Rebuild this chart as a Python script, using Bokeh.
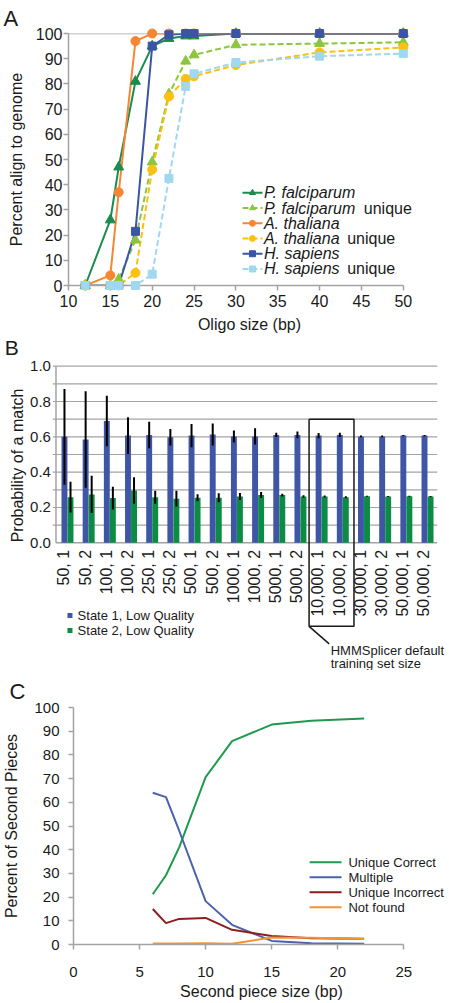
import numpy as np
from bokeh.plotting import figure
from bokeh.models import FixedTicker, Grid
from bokeh.core.properties import value
from bokeh.embed import file_html
from bokeh.resources import INLINE

FONT = "Liberation Sans"
GRAY = "#a3a3a3"
TXT = "#1a1a1a"

# ---------------- Panel A data ----------------
oligo_size = [12, 15, 16, 18, 20, 22, 24, 25, 30, 40, 50]
pf_all = [0, 26, 47, 81, 95, 98, 99, 99, 100, 100, 100]
pf_unique = [0, 0, 2.5, 18, 49, 76, 89, 91.5, 95.5, 96, 96.5]
at_all = [0, 4, 37, 97, 100, 100, 100, 100, 100, 100, 100]
at_unique = [0, 0, 0, 5, 46, 75, 82, 83, 87.5, 92.5, 94.5]
hs_all = [0, 0, 0, 21.5, 95, 99.5, 100, 100, 100, 100, 100]
hs_unique = [0, 0, 0, 0, 4.5, 42.5, 79, 84, 88.5, 91, 92]
a_xticks = [10, 15, 20, 25, 30, 35, 40, 45, 50]
a_yticks = [0, 10, 20, 30, 40, 50, 60, 70, 80, 90, 100]

# ---------------- Panel B data ----------------
train_labels = ["50, 1", "50, 2", "100, 1", "100, 2", "250, 1", "250, 2",
                "500, 1", "500, 2", "1000, 1", "1000, 2", "5000, 1", "5000, 2",
                "10,000, 1", "10,000, 2", "30,000, 1", "30,000, 2", "50,000, 1", "50,000, 2"]
state1 = [0.600, 0.585, 0.690, 0.607, 0.611, 0.598, 0.607, 0.613, 0.602, 0.602,
          0.611, 0.611, 0.607, 0.611, 0.602, 0.602, 0.607, 0.607]
state1_err = [0.271, 0.273, 0.143, 0.104, 0.075, 0.047, 0.066, 0.062, 0.034, 0.046,
              0.012, 0.019, 0.015, 0.012, 0.005, 0.005, 0.004, 0.004]
state2 = [0.258, 0.274, 0.253, 0.296, 0.258, 0.250, 0.255, 0.255, 0.262, 0.270,
          0.270, 0.262, 0.262, 0.258, 0.264, 0.262, 0.264, 0.262]
state2_err = [0.087, 0.105, 0.065, 0.075, 0.037, 0.045, 0.020, 0.026, 0.020, 0.017,
              0.008, 0.007, 0.006, 0.006, 0.003, 0.003, 0.003, 0.003]
b_yticks = [0.0, 0.2, 0.4, 0.6, 0.8, 1.0]
b_ygrid = [0.1, 0.2, 0.3, 0.4, 0.5, 0.6, 0.7, 0.8, 0.9, 1.0]
b_series = ["State 1, Low Quality", "State 2, Low Quality"]

# ---------------- Panel C data ----------------
piece_size = [6, 7, 8, 10, 12, 15, 18, 22]
unique_correct = [21.2, 29.2, 41.0, 70.6, 85.8, 92.8, 94.4, 95.4]
multiple = [64.0, 62.2, 48.0, 18.3, 8.3, 1.5, 0.5, 0.3]
unique_incorrect = [15.0, 9.0, 10.8, 11.2, 6.2, 3.6, 2.6, 2.4]
not_found = [0.4, 0.4, 0.4, 0.5, 0.3, 3.0, 2.8, 2.3]
c_xticks = [0, 5, 10, 15, 20, 25]
c_yticks = [0, 10, 20, 30, 40, 50, 60, 70, 80, 90, 100]


def style_axis(ax, ticks, bounds, label, tick_size, standoff, label_standoff):
    ax.ticker = FixedTicker(ticks=ticks)
    ax.bounds = bounds
    ax.axis_line_color = GRAY
    ax.axis_line_width = 1.5
    ax.major_tick_line_color = GRAY
    ax.major_tick_line_width = 1.5
    ax.major_tick_out = 5
    ax.major_tick_in = 0
    ax.minor_tick_line_color = None
    ax.major_label_text_font = FONT
    ax.major_label_text_font_size = tick_size
    ax.major_label_text_color = TXT
    ax.major_label_standoff = standoff
    ax.axis_label = label
    ax.axis_label_text_font = FONT
    ax.axis_label_text_font_size = "16px"
    ax.axis_label_text_font_style = "normal"
    ax.axis_label_text_color = TXT
    ax.axis_label_standoff = label_standoff


def panel_title(p, letter, offset, standoff):
    p.title.text = letter
    p.title.text_font = FONT
    p.title.text_font_size = "22px"
    p.title.text_font_style = "normal"
    p.title.text_color = TXT
    p.title.align = "left"
    p.title.offset = offset
    p.title.standoff = standoff


# ================= Panel A (page y 0-335) =================
pA = figure(width=449, height=335, x_range=(10, 53.25), y_range=(0, 100),
            output_backend="svg", toolbar_location=None,
            min_border_left=68, min_border_right=19, min_border_top=33, min_border_bottom=43)
pA.outline_line_color = None
pA.grid.visible = False
panel_title(pA, "A", -65, 5)
style_axis(pA.xaxis[0], a_xticks, (10, 50), "Oligo size (bp)", "16px", 4, 6)
style_axis(pA.yaxis[0], a_yticks, (0, 100), "Percent align to genome", "16px", 1, 8)
pA.segment(x0=[a_xticks[0]], y0=[a_yticks[-1]], x1=[a_xticks[-1]], y1=[a_yticks[-1]],
           line_color=GRAY, line_width=1.5)

series_A = [
    ("P. falciparum", "", pf_all, "#1a8c4e", "solid", "triangle", 10),
    ("P. falciparum", "unique", pf_unique, "#8cc63f", "6 3", "triangle", 10),
    ("A. thaliana", "", at_all, "#f58634", "solid", "circle", 9),
    ("A. thaliana", "unique", at_unique, "#fdc010", "6 3", "circle", 9),
    ("H. sapiens", "", hs_all, "#3a55a4", "solid", "square", 8),
    ("H. sapiens", "unique", hs_unique, "#a0d8ef", "6 3", "square", 8),
]
leg_rows_A = [36.8, 30.75, 24.7, 18.65, 12.6, 6.55]
suffix_x_A = [45.28, 45.28, 43.3, 43.3, 43.3, 43.3]
for k, (name, suffix, vals, col, dash, marker, size) in enumerate(series_A):
    pA.line(oligo_size, vals, line_color=col, line_width=2, line_dash=dash)
    pA.scatter(oligo_size, vals, marker=marker, size=size, fill_color=col,
               line_color=col, level="overlay")
    y = leg_rows_A[k]
    pA.line([30.79, 33.18], [y, y], line_color=col, line_width=2, line_dash=dash)
    pA.scatter([31.98], [y], marker=marker, size=6, fill_color=col, line_color=col)
    pA.text([33.35], [y], text=[name], text_font=value(FONT), text_font_size="16px",
            text_font_style="italic", text_color=TXT, text_baseline="middle")
    if suffix:
        pA.text([suffix_x_A[k]], [y], text=[suffix], text_font=value(FONT),
                text_font_size="16px", text_color=TXT, text_baseline="middle")

# ================= Panel B (page y 335-670) =================
# frame covers the whole figure; x in category units (x=0 at the left axis)
pB = figure(width=449, height=335, x_range=(-2.62, 18.58), y_range=(-0.7231, 1.1738),
            output_backend="svg", toolbar_location=None,
            x_axis_location=None, y_axis_location=None, min_border=0)
pB.outline_line_color = None
for g in pB.select(type=Grid):
    g.visible = False
pB.title.visible = False
n = len(train_labels)
idx = np.arange(n)
pB.segment(x0=[-0.15] * len(b_ygrid), y0=b_ygrid, x1=[n] * len(b_ygrid), y1=b_ygrid,
           line_color=GRAY, line_width=1.2)
pB.segment(x0=[0], y0=[0], x1=[n], y1=[0], line_color=GRAY, line_width=1.5)
pB.segment(x0=[0], y0=[0], x1=[0], y1=[b_yticks[-1]], line_color=GRAY, line_width=1.5)
pB.text(x=[-0.24] * len(b_yticks), y=b_yticks, text=["%.1f" % t for t in b_yticks],
        text_font=value(FONT), text_font_size="15px", text_color=TXT,
        text_align="right", text_baseline="middle")
pB.text(x=[-1.82], y=[0.438], text=["Probability of a match"], angle=np.pi / 2,
        text_font=value(FONT), text_font_size="16px", text_color=TXT,
        text_align="center", text_baseline="middle")
pB.text(x=[-2.42], y=[1.104], text=["B"], text_font=value(FONT), text_font_size="21px",
        text_color=TXT, text_align="left", text_baseline="middle")
w = 0.28
s1 = np.array(state1)
s2 = np.array(state2)
e1 = np.array(state1_err)
e2 = np.array(state2_err)
pB.vbar(x=idx + 0.40, top=s1, bottom=0, width=w, fill_color="#3f56a6", line_color=None)
pB.vbar(x=idx + 0.685, top=s2, bottom=0, width=w, fill_color="#0b8c45", line_color=None)
pB.segment(x0=idx + 0.40, y0=s1 - e1, x1=idx + 0.40, y1=s1 + e1, line_color="black", line_width=2)
pB.segment(x0=idx + 0.685, y0=s2 - e2, x1=idx + 0.685, y1=s2 + e2, line_color="black", line_width=2)
pB.text(x=idx + 0.37, y=[-0.04] * n, text=train_labels, angle=np.pi / 2,
        text_font=value(FONT), text_font_size="16px", text_color=TXT,
        text_align="right", text_baseline="middle")
pB.scatter([0.66, 0.66], [-0.412, -0.497], marker="square", size=5,
           fill_color=["#3f56a6", "#0b8c45"], line_color=None)
pB.text(x=[1.02, 1.02], y=[-0.412, -0.497], text=b_series, text_font=value(FONT),
        text_font_size="13px", text_color=TXT, text_baseline="middle")
hx0, hx1 = 11.95, 14.07
pB.line(x=[hx0, hx1, hx1, hx0, hx0], y=[0.7, 0.7, -0.473, -0.473, 0.7],
        line_color="#1a1a1a", line_width=1.5)
pB.segment(x0=[hx0], y0=[-0.473], x1=[12.9], y1=[-0.572], line_color="#1a1a1a", line_width=1.5)
pB.text(x=[12.97, 12.97], y=[-0.61, -0.686], text=["HMMSplicer default", "training set size"],
        text_font=value(FONT), text_font_size="13px", text_color=TXT, text_baseline="middle")

# ================= Panel C (page y 670-1002) =================
pC = figure(width=449, height=332, x_range=(0, 28.46), y_range=(0, 100),
            output_backend="svg", toolbar_location=None,
            min_border_left=62, min_border_right=0, min_border_top=37, min_border_bottom=58)
pC.outline_line_color = None
pC.grid.visible = False
panel_title(pC, "C", -64, 8)
style_axis(pC.xaxis[0], c_xticks, (0, 25), "Second piece size (bp)", "15px", 17, 3)
style_axis(pC.yaxis[0], c_yticks, (0, 100), "Percent of Second Pieces", "15px", 9, 11)

series_C = [
    ("Unique Correct", unique_correct, "#1d9a50"),
    ("Multiple", multiple, "#4a62ad"),
    ("Unique Incorrect", unique_incorrect, "#8b1e1e"),
    ("Not found", not_found, "#f39237"),
]
leg_rows_C = [34.7, 28.4, 22.07, 15.74]
for k, (name, vals, col) in enumerate(series_C):
    pC.line(piece_size, vals, line_color=col, line_width=2)
    y = leg_rows_C[k]
    pC.line([17.87, 20.29], [y, y], line_color=col, line_width=2)
    pC.text([20.81], [y], text=[name], text_font=value(FONT), text_font_size="13px",
            text_color=TXT, text_baseline="middle")

# three independent roots stacked on the page (no frame alignment between panels)
open("out.html", "w").write(file_html([pA, pB, pC], INLINE))
